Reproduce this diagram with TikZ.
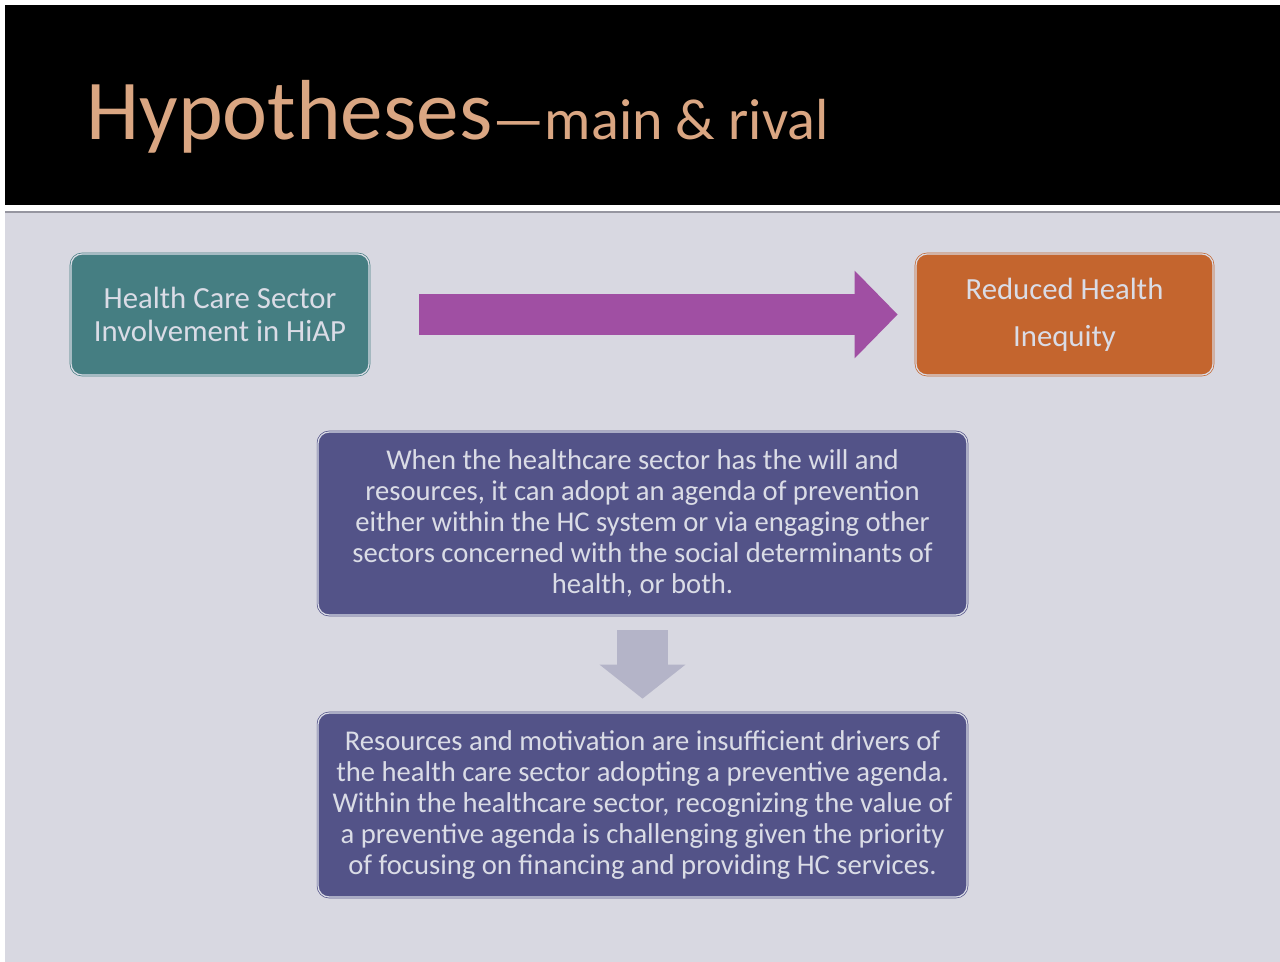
\documentclass[tikz,border=0pt]{standalone}
\usepackage{fontspec}
\setmainfont{Carlito}
\usetikzlibrary{arrows.meta, positioning, calc}
\definecolor{slidebg}{RGB}{216,216,225}
\definecolor{slideline}{RGB}{150,150,160}
\definecolor{titletan}{RGB}{218,166,130}
\definecolor{hcteal}{RGB}{69,126,130}
\definecolor{rhorange}{RGB}{196,101,46}
\definecolor{hyppurple}{RGB}{83,83,136}
\definecolor{linkmagenta}{RGB}{160,79,163}
\definecolor{downgray}{RGB}{180,180,200}
\definecolor{boxtext}{RGB}{218,220,230}

\begin{document}
\begin{tikzpicture}[x=0.02cm, y=-0.02cm,
    box/.style={rounded corners=0.22cm, line width=0.4pt, double distance=0.7pt, text=boxtext, align=center, inner sep=0pt},
    hcbox/.style={box, fill=hcteal, draw=hcteal, double=boxtext, minimum width=5.96cm, minimum height=2.42cm, font=\fontsize{17.5}{18.8}\selectfont},
    rhbox/.style={box, fill=rhorange, draw=rhorange, double=boxtext, minimum width=5.94cm, minimum height=2.42cm, font=\fontsize{17.5}{26.7}\selectfont},
    hypbox/.style={box, fill=hyppurple, draw=hyppurple, double=boxtext, minimum width=12.98cm, minimum height=3.66cm, font=\fontsize{16.3}{17.7}\selectfont},
    linkarrow/.style={draw=linkmagenta, line width=0.84cm, -{Triangle[length=0.86cm, width=1.7cm]}, shorten <=1cm, shorten >=0.36cm},
    downarrow/.style={draw=downgray, line width=1.02cm, -{Triangle[length=0.68cm, width=1.68cm]}, shorten <=0.3cm, shorten >=0.28cm}
  ]
  \useasboundingbox (0,0) rectangle (1280,962);
  \fill[white] (0,0) rectangle (1280,962);
  \fill[black] (5,5) rectangle (1280,205);
  \fill[slidebg] (5,211) rectangle (1280,962);
  \draw[slideline, line width=1.5pt] (5,212) -- (1280,212);

  \node[anchor=base west, text=titletan, inner sep=0pt] (title) at (86,140)
    {\fontsize{48.5}{48.5}\selectfont Hypotheses\fontsize{33}{33}\selectfont—main \& rival};

  \node[hcbox] (hc) at (220,314.5) {Health Care Sector\\Involvement in HiAP};
  \node[rhbox] (rh) at (1064.5,314.5) {Reduced Health\\Inequity};
  \node[hypbox] (h1) at (642.5,523.5) {When the healthcare sector has the will and\\resources, it can adopt an agenda of prevention\\either within the HC system or via engaging other\\sectors concerned with the social determinants of\\health, or both.};
  \node[hypbox, minimum height=3.68cm] (h2) at (642.5,805) {Resources and motivation are insufficient drivers of\\the health care sector adopting a preventive agenda.\\Within the healthcare sector, recognizing the value of\\a preventive agenda is challenging given the priority\\of focusing on financing and providing HC services.};

  \draw[linkarrow] (hc.east) -- (rh.west);
  \draw[downarrow] (h1.south) -- (h2.north);
\end{tikzpicture}
\end{document}
